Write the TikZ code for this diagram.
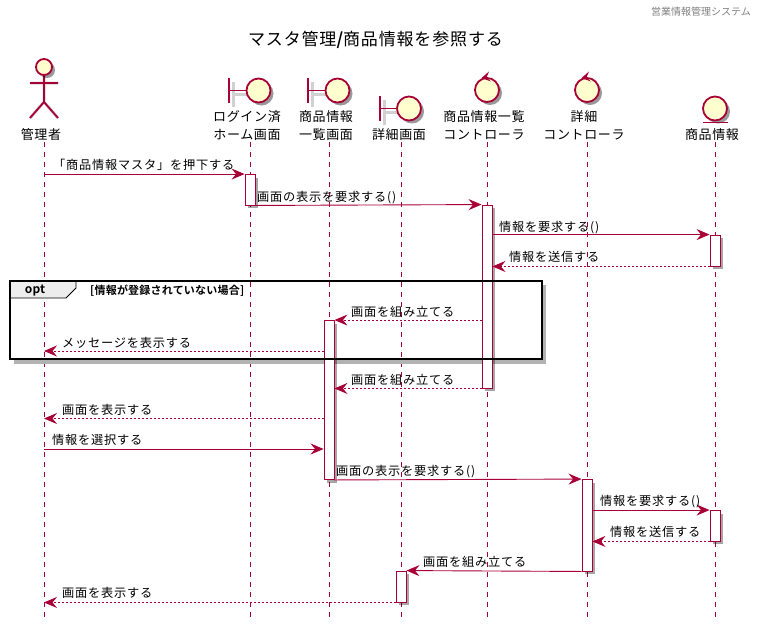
\documentclass[tikz,border=0pt]{standalone}
\usepackage{fontspec}
\setmainfont{Noto Sans CJK JP}
\newfontfamily\jp[LetterSpace=5]{Noto Sans CJK JP}
\newfontfamily\jpm[LetterSpace=6.5]{Noto Sans CJK JP}
\newfontfamily\jpb[LetterSpace=2]{Noto Sans CJK JP Bold}
\usetikzlibrary{arrows.meta,shadows}
\definecolor{crim}{HTML}{A80036}
\definecolor{pale}{HTML}{FEFECE}
\tikzset{
  x=1pt,y=-1pt,
  lifeline/.style={draw=crim,line width=.8pt,dash pattern=on 5pt off 5pt},
  shade line/.style={draw=black!18,line width=3pt},
  figure line/.style={draw=crim,line width=1.8pt},
  disc/.style={circle,draw=crim,line width=1.8pt,fill=pale,inner sep=0pt,minimum size=24pt,
    drop shadow={shadow xshift=3pt,shadow yshift=-3pt,fill=black,opacity=.4}},
  head/.style={disc,minimum size=16pt},
  activation/.style={rectangle,draw=crim,line width=.9pt,fill=white,minimum width=10pt,inner sep=0pt,
    drop shadow={shadow xshift=3pt,shadow yshift=-3pt,fill=black,opacity=.35}},
  msg/.style={draw=crim,line width=.9pt,-{Stealth[length=13pt,width=11pt,inset=4.5pt]}},
  reply/.style={msg,dash pattern=on 2pt off 2pt},
  msgtext/.style={anchor=base west,inner sep=0pt,font=\jpm\fontsize{12.2}{15}\selectfont},
  parttext/.style={anchor=base,inner sep=0pt,font=\jp\fontsize{13}{15}\selectfont},
}
\newcommand{\actbox}[4]{\node[activation,minimum height=#4pt] (#1) at (#2,#3+#4/2) {};}
\begin{document}
\begin{tikzpicture}
\useasboundingbox (0,0) rectangle (757,625);
% lifeline ends
\foreach \n/\x in {1/44,2/250,3/329,4/401,5/487,6/587,7/715}{
  \coordinate (t\n) at (\x,142);
  \coordinate (b\n) at (\x,617);
  \draw[lifeline] (t\n) -- (b\n);
}
% titles
\node[anchor=east,inner sep=0pt,text=black!50,font=\fontsize{10}{11}\selectfont] (header) at (751,12) {営業情報管理システム};
\node[inner sep=0pt,font=\jp\fontsize{17}{20}\selectfont] (title) at (375.5,40) {マスタ管理{\jpb /}商品情報を参照する};
% actor
\coordinate (neck) at (44,75);
\coordinate (hip) at (44,102);
\coordinate (armL) at (30,83);
\coordinate (armR) at (58,83);
\coordinate (legL) at (30,118);
\coordinate (legR) at (58,118);
\begin{scope}[shift={(4,4)}]
  \draw[shade line] (neck) -- (hip) (armL) -- (armR) (legL) -- (hip) -- (legR);
\end{scope}
\draw[figure line] (neck) -- (hip) (armL) -- (armR) (legL) -- (hip) -- (legR);
\node[head] (actorhead) at (44,67) {};
\node[parttext] (p1) at (41,139) {管理者};
% boundaries
\foreach \n/\bx/\cx/\yy in {2/229/258.5/90.5,3/308/337.5/90.5,4/380/409/108.5}{
  \coordinate (bt\n) at (\bx,\yy-12.5);
  \coordinate (bb\n) at (\bx,\yy+12.5);
  \coordinate (bm\n) at (\bx,\yy);
  \draw[shade line] ([shift={(4,4)}]bt\n) -- ([shift={(4,4)}]bb\n) ([shift={(4,4)}]bm\n) -- (\cx,\yy+4);
  \node[disc] (bc\n) at (\cx,\yy) {};
  \draw[figure line] (bt\n) -- (bb\n) (bm\n) -- (bc\n.west);
}
\node[parttext] (p2a) at (247,121) {ログイン済};
\node[parttext] (p2b) at (247,139) {ホーム画面};
\node[parttext] (p3a) at (326,121) {商品情報};
\node[parttext] (p3b) at (326,139) {一覧画面};
\node[parttext] (p4) at (399,139) {詳細画面};
% controls
\foreach \n/\cx in {5/487,6/587}{
  \node[disc] (cc\n) at (\cx,90) {};
  \fill[crim] (\cx-5.5,78) -- (\cx+2,71.5) -- (\cx-.5,77.5) -- (\cx+4,81.5) -- cycle;
}
\node[parttext] (p5a) at (484,121) {商品情報一覧};
\node[parttext] (p5b) at (484,139) {コントローラ};
\node[parttext] (p6a) at (584,121) {詳細};
\node[parttext] (p6b) at (584,139) {コントローラ};
% entity
\node[disc] (ec) at (715,108.5) {};
\draw[figure line] (ec.center |- 0,122.5) ++(-12.5,0) coordinate (eu1) -- ++(25,0) coordinate (eu2);
\node[parttext] (p7) at (712,139) {商品情報};
% opt frame shadow
\coordinate (fa) at (10,281);
\coordinate (fb) at (542,359);
\fill[black!30] (14,359) rectangle (546,364);
\fill[black!30] (542,285) rectangle (546,364);
% activations
\actbox{a1}{250}{174.5}{30.5}
\actbox{a2}{487}{205}{183}
\actbox{a3}{715}{235}{31}
\actbox{a4}{329}{320.5}{159}
\actbox{a5}{587}{479.5}{91.5}
\actbox{a6}{715}{510.5}{30.5}
\actbox{a7}{401}{571}{31}
% opt frame
\fill[black!7] (fa) -- (76,281) -- (76,288) -- (66,298) -- (10,298) -- cycle;
\draw[line width=.9pt] (76,281) -- (76,288) -- (66,298) -- (10,298);
\draw[line width=2pt] (fa) rectangle (fb);
\node[inner sep=0pt,font=\jpb\fontsize{12}{14}\selectfont] (optlabel) at (35,291) {opt};
\node[anchor=west,inner sep=0pt,font=\jpb\fontsize{11}{12}\selectfont] (guard) at (90,290.5) {[情報が登録されていない場合]};
% free ends of messages
\foreach \n/\y in {m6/351,m8/418.5,m9/449}{\coordinate (\n) at (0,\y);}
% messages
\draw[msg] (t1 |- a1.north) -- (a1.north west);
\node[msgtext] (l1) at (53,169) {「商品情報マスタ」を押下する};
\draw[msg] (a1.south east) -- (a2.north west);
\node[msgtext] (l2) at (257,201) {画面の表示を要求する()};
\draw[msg] (a2.east |- a3.north) -- (a3.north west);
\node[msgtext] (l3) at (499,231) {情報を要求する()};
\draw[reply] (a3.south west) -- (a2.east |- a3.south);
\node[msgtext] (l4) at (509,261) {情報を送信する};
\draw[reply] (a2.west |- a4.north) -- (a4.north east);
\node[msgtext] (l5) at (351,316) {画面を組み立てる};
\draw[reply] (a4.west |- m6) -- (t1 |- m6);
\node[msgtext] (l6) at (62,347) {メッセージを表示する};
\draw[reply] (a2.south west) -- (a4.east |- a2.south);
\node[msgtext] (l7) at (351,384) {画面を組み立てる};
\draw[reply] (a4.west |- m8) -- (t1 |- m8);
\node[msgtext] (l8) at (62,414) {画面を表示する};
\draw[msg] (t1 |- m9) -- (a4.west |- m9);
\node[msgtext] (l9) at (52,444) {情報を選択する};
\draw[msg] (a4.south east) -- (a5.north west);
\node[msgtext] (l10) at (336,475) {画面の表示を要求する()};
\draw[msg] (a5.east |- a6.north) -- (a6.north west);
\node[msgtext] (l11) at (600,505) {情報を要求する()};
\draw[reply] (a6.south west) -- (a5.east |- a6.south);
\node[msgtext] (l12) at (610,536) {情報を送信する};
\draw[msg] (a5.south west) -- (a7.north east);
\node[msgtext] (l13) at (423,566) {画面を組み立てる};
\draw[reply] (a7.south west) -- (t1 |- a7.south);
\node[msgtext] (l14) at (62,597) {画面を表示する};
\end{tikzpicture}
\end{document}
